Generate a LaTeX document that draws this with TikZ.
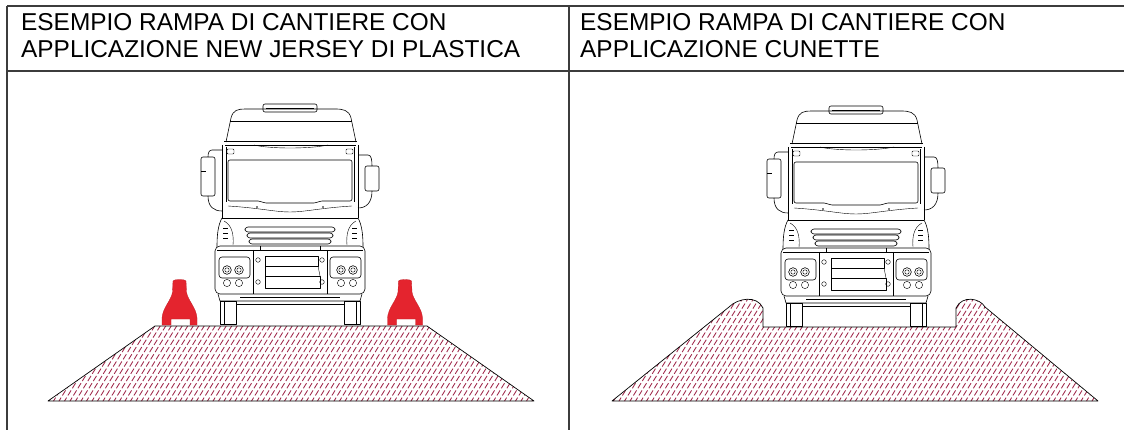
\documentclass[tikz,border=0pt]{standalone}
\usepackage{fontspec}
\setmainfont{Liberation Sans}
\begin{document}
\definecolor{rulegray}{RGB}{60,60,60}
\definecolor{hatchred}{RGB}{160,40,75}
\definecolor{barrierred}{RGB}{228,36,46}
\tikzset{
  rule/.style={draw=rulegray, line width=1.1pt},
  hdr/.style={font=\fontsize{24.4}{27}\selectfont, inner sep=0pt, anchor=base west},
  tl/.style={draw=black, line width=0.6pt, line join=round},
  thin/.style={draw=black, line width=0.4pt},
  hatch/.style={draw=hatchred, line width=0.85pt, dash pattern=on 6pt off 2.5pt},
  ground/.style={draw=black, line width=0.7pt, line join=round},
  barrier/.style={fill=barrierred, draw=barrierred!85!black, line width=0.3pt},
  truck/.pic={
    % roof light
    \draw[tl, rounded corners=2pt] (-27,-213) rectangle (27,-221);
    \draw[thin] (-24,-217) -- (24,-217);
    % roof fairing
    \draw[tl] (-64,-183) -- (-59,-207) .. controls (-57,-215) and (-52,-216) .. (-45,-216)
      -- (45,-216) .. controls (53,-216) and (59,-215) .. (61,-207) -- (66,-183);
    \draw[thin] (-60,-204) -- (62,-204);
    % sun visor
    \draw[tl] (-66,-184) -- (67,-184);
    \draw[tl] (-65,-180) -- (66,-180);
    \draw[thin] (-36,-180) .. controls (-20,-176) and (20,-176) .. (38,-180);
    % cab sides
    \draw[tl] (-68,-180) -- (-68,-107);
    \draw[tl] (68,-180) -- (68,-107);
    \draw[thin] (-64,-178) -- (-64,-123);
    \draw[thin] (64,-178) -- (64,-123);
    % marker lamps
    \draw[thin, rounded corners=1pt] (-63,-176) rectangle (-56,-171);
    \draw[thin, rounded corners=1pt] (56,-176) rectangle (63,-171);
    % windshield
    \draw[tl, rounded corners=2pt] (-62,-165) -- (62,-165) -- (62,-124)
      -- (30,-124) -- (26,-122) -- (-26,-122) -- (-30,-124) -- (-62,-124) -- cycle;
    % mirrors and arms
    \draw[tl, rounded corners=2pt] (-89,-168) rectangle (-75,-129);
    \draw[thin] (-89,-154) -- (-84,-154);
    \draw[tl] (-68,-175) -- (-78,-175) .. controls (-81,-175) and (-82,-172) .. (-82,-168);
    \draw[tl] (-82,-129) .. controls (-82,-118) and (-76,-114) .. (-68,-114);
    \draw[tl, rounded corners=2pt] (75,-159) rectangle (89,-134);
    \draw[tl] (68,-170) -- (78,-170) .. controls (81,-170) and (82,-166) .. (82,-159);
    \draw[tl] (82,-134) .. controls (82,-122) and (76,-117) .. (68,-117);
    % panel under windshield
    \draw[thin] (-62,-119) .. controls (-30,-117) and (-15,-113) .. (0,-113)
      .. controls (15,-113) and (30,-117) .. (62,-119);
    \draw[tl] (-68,-107) -- (68,-107);
    \fill (-33,-118) circle (0.9);
    \fill (33,-118) circle (0.9);
    % headlamp pods
    \draw[tl] (-68,-107) .. controls (-72,-100) and (-73,-90) .. (-73,-78);
    \draw[tl] (68,-107) .. controls (72,-100) and (73,-90) .. (73,-78);
    \draw[thin] (-66,-104) .. controls (-58,-100) and (-56,-90) .. (-57,-80);
    \draw[thin] (66,-104) .. controls (58,-100) and (56,-90) .. (57,-80);
    \foreach \yy in {-97,-92,-87}{
      \draw[thin] (-67,\yy) -- (-62,\yy);
      \draw[thin] (62,\yy) -- (67,\yy);
    }
    % grille
    \draw[tl, rounded corners=3pt] (-45,-98) rectangle (45,-93);
    \draw[tl, rounded corners=3pt] (-43,-92) rectangle (43,-87);
    \draw[tl, rounded corners=3pt] (-41,-86) rectangle (41,-81);
    % bumper
    \draw[tl, rounded corners=5pt] (-75,-79) rectangle (75,-31);
    \draw[thin] (-73,-75) -- (73,-75);
    \draw[thin] (-37,-75) -- (-37,-31);
    \draw[thin] (37,-75) -- (37,-31);
    \draw[thin] (-30,-79) -- (-30,-75);
    \draw[thin] (30,-79) -- (30,-75);
    % lamp clusters
    \draw[tl, rounded corners=3pt] (-71,-68) rectangle (-40,-47);
    \draw[tl, rounded corners=3pt] (40,-68) rectangle (71,-47);
    \foreach \xx in {-63,-51,51,63}{
      \draw[tl] (\xx,-55) circle (4.3);
      \draw[thin] (\xx,-55) circle (2.2);
      \draw[thin] (\xx,-42) circle (3.6);
    }
    % number plate area
    \draw[tl] (-25,-69) rectangle (28,-59);
    \draw[tl] (-25,-49) rectangle (30,-37);
    \draw[thin] (-25,-59) -- (-25,-49);
    \draw[thin] (28,-59) -- (30,-49);
    \foreach \xx/\yy in {-32/-65,32/-65,-32/-43,32/-43}{
      \draw[thin] (\xx,\yy) circle (2.3);
    }
    % lower step
    \draw[tl] (-72,-31) -- (-70,-24) -- (70,-24) -- (72,-31);
    \draw[thin] (-50,-28) -- (50,-28);
    % wheels
    \draw[tl] (-70,-24) rectangle (-54,-1);
    \draw[thin] (-66,-24) -- (-66,-1);
    \draw[tl] (54,-24) rectangle (70,-1);
    \draw[thin] (66,-24) -- (66,-1);
    \draw[thin] (-54,-21) -- (54,-21);
  }
}
\begin{tikzpicture}[x=1pt,y=-1pt]
  \useasboundingbox (0,0) rectangle (1124,430);
  \fill[white] (0,0) rectangle (1124,430);

  % table frame
  \draw[rule] (7,6) -- (1124,6);
  \draw[rule] (7,71) -- (1124,71);
  \draw[rule] (7,6) -- (7,430);
  \draw[rule] (569,6) -- (569,430);

  % headings
  \node[hdr] (hl1) at (21,31) {ESEMPIO RAMPA DI CANTIERE CON};
  \node[hdr] (hl2) at (21,58) {APPLICAZIONE NEW JERSEY DI PLASTICA};
  \node[hdr] (hr1) at (580,31) {ESEMPIO RAMPA DI CANTIERE CON};
  \node[hdr] (hr2) at (580,58) {APPLICAZIONE CUNETTE};

  % left ramp with hatched fill
  \begin{scope}
    \clip (48,401) -- (155,326) -- (427,326) -- (534,401) -- cycle;
    \foreach \x in {-40,-34.5,...,560}{
      \draw[hatch] (\x,410) -- ++(80,-130);
    }
  \end{scope}
  \draw[ground] (48,401) -- (155,326) -- (427,326) -- (534,401) -- cycle;

  % plastic barriers
  \foreach \c in {179.5,405}{
    \begin{scope}[shift={(\c,0)}]
      \path[barrier] (-17.5,325) -- (-17.5,318)
        .. controls (-17,308) and (-8,300) .. (-7,292) -- (-6.5,281)
        .. controls (-6,279) and (6,279) .. (6.5,281) -- (7,292)
        .. controls (8,300) and (17,308) .. (17.5,318) -- (17.5,325)
        -- (10.5,325) -- (10.5,319) -- (-8.5,319) -- (-8.5,325) -- cycle;
    \end{scope}
  }

  % truck on the left ramp
  \pic at (290,325) {truck};

  % right ramp with cunette kerbs
  \begin{scope}
    \clip (612,401) -- (729,307) .. controls (738,298) and (757,295) .. (763,308)
      -- (763,327) -- (956,327) -- (956,308) .. controls (962,295) and (980,298) .. (985,307)
      -- (1098,401) -- cycle;
    \foreach \x in {520,525.5,...,1130}{
      \draw[hatch] (\x,410) -- ++(80,-130);
    }
  \end{scope}
  \draw[ground] (612,401) -- (729,307) .. controls (738,298) and (757,295) .. (763,308)
      -- (763,327) -- (956,327) -- (956,308) .. controls (962,295) and (980,298) .. (985,307)
      -- (1098,401) -- cycle;

  % truck on the right ramp
  \pic at (856,327) {truck};
\end{tikzpicture}
\end{document}
